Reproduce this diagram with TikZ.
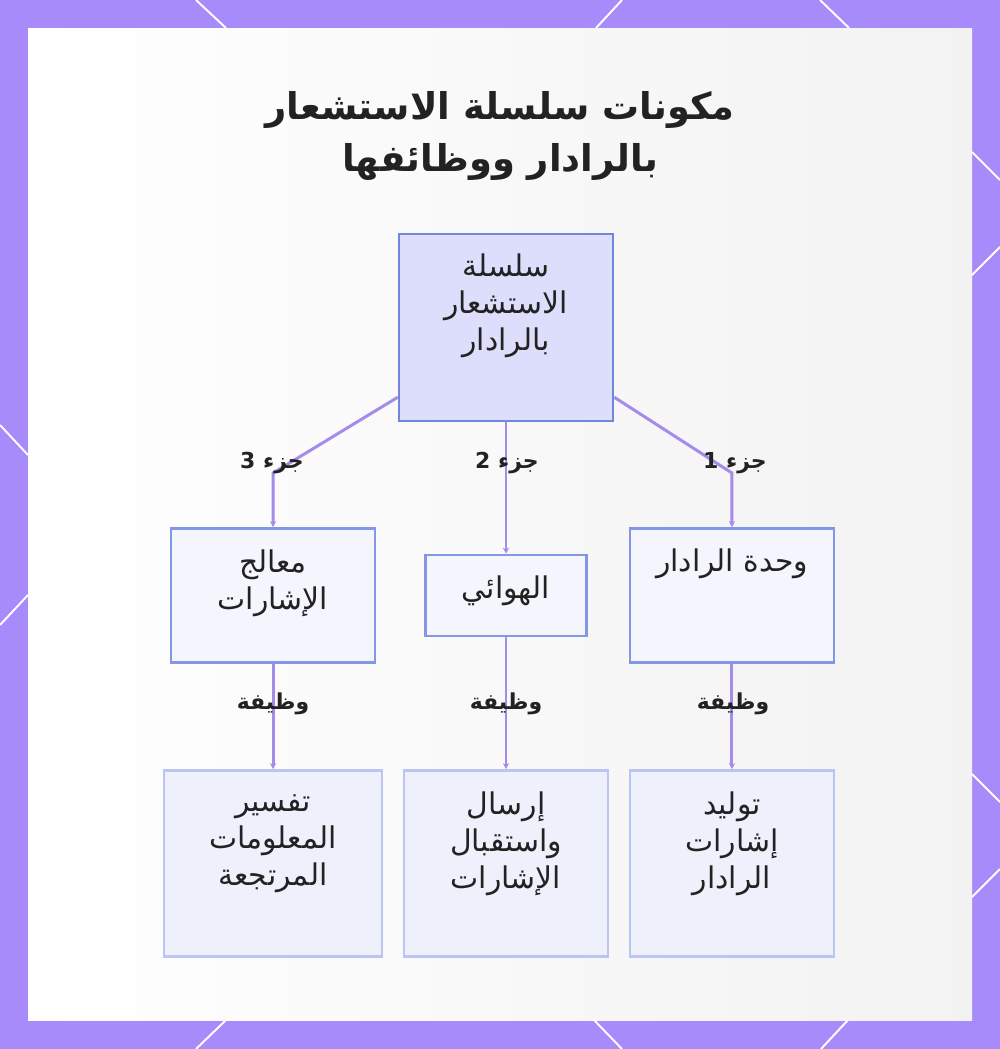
\documentclass[tikz,border=0pt]{standalone}
\usepackage{fontspec}
\newfontfamily\arabicfont[Script=Arabic]{DejaVu Sans}
\TeXXeTstate=1
\usetikzlibrary{positioning,arrows.meta}
\definecolor{framebg}{HTML}{A78BFA}
\definecolor{topfill}{HTML}{DCDEFC}
\definecolor{topline}{HTML}{7585DB}
\definecolor{midfill}{HTML}{F4F5FD}
\definecolor{midline}{HTML}{8397E6}
\definecolor{lowfill}{HTML}{EEF1FC}
\definecolor{lowline}{HTML}{BAC5F2}
\definecolor{linkcol}{HTML}{A58BEA}
\definecolor{inkcol}{HTML}{222222}
\newcommand{\rtl}[1]{\beginR #1\endR}

\begin{document}
\begin{tikzpicture}[x=0.02cm, y=-0.02cm,
    topbox/.style={draw=topline, fill=topfill, line width=1.4pt, minimum width=4.28cm, minimum height=3.74cm},
    midbox/.style={draw=midline, fill=midfill, line width=1.4pt, minimum width=4.08cm, minimum height=2.68cm},
    lowbox/.style={draw=lowline, fill=lowfill, line width=1.4pt, minimum width=4.08cm, minimum height=3.72cm},
    boxtext/.style={text=inkcol, align=center, inner sep=0pt, font=\arabicfont\fontsize{17}{21}\selectfont},
    tag/.style={text=inkcol, inner sep=1pt, font=\arabicfont\bfseries\fontsize{12.5}{15}\selectfont},
    link/.style={draw=linkcol, line width=1.7pt, -{Stealth[length=3.5pt,width=3.5pt]}},
    hexline/.style={white, line width=1.1pt}]
  \useasboundingbox (0,0) rectangle (1000,1049);
  \fill[framebg] (0,0) rectangle (1000,1049);
  \shade[left color=white, right color=black!5] (28,28) rectangle (972,1020);
  % frame lines
  \draw[hexline] (196,0) -- (226,28);
  \draw[hexline] (622,0) -- (596,28);
  \draw[hexline] (820,0) -- (849,28);
  \draw[hexline] (196,1049) -- (226,1020);
  \draw[hexline] (622,1049) -- (594,1020);
  \draw[hexline] (821,1049) -- (848,1020);
  \draw[hexline] (0,425) -- (28,455);
  \draw[hexline] (28,595) -- (0,625);
  \draw[hexline] (972,152) -- (1000,180);
  \draw[hexline] (972,275) -- (1000,247);
  \draw[hexline] (972,774) -- (1000,802);
  \draw[hexline] (972,897) -- (1000,869);

  \node[text=inkcol, align=center, font=\arabicfont\bfseries\fontsize{21}{29.5}\selectfont] (title) at (500,136)
    {\rtl{مكونات سلسلة الاستشعار}\\\rtl{بالرادار ووظائفها}};

  % boxes
  \node[topbox] (chain) at (506,327.5) {};
  \node[midbox, on grid, below left=5.36cm and 4.66cm of chain] (proc) {};
  \node[midbox, on grid, below=5.36cm of chain, minimum width=3.22cm, minimum height=1.62cm] (ant) {};
  \node[midbox, on grid, below right=5.36cm and 4.52cm of chain] (unit) {};
  \node[lowbox, on grid, below=5.36cm of proc, minimum width=4.36cm] (interp) {};
  \node[lowbox, on grid, below=5.36cm of ant] (txrx) {};
  \node[lowbox, on grid, below=5.36cm of unit] (gen) {};

  \node[boxtext] (chaintxt) at (506,306) {\rtl{سلسلة}\\\rtl{الاستشعار}\\\rtl{بالرادار}};
  \node[boxtext] (proctxt) at (273,583) {\rtl{معالج}\\\rtl{الإشارات}};
  \node[boxtext] (anttxt) at (506,591) {\rtl{الهوائي}};
  \node[boxtext] (unittxt) at (732,564) {\rtl{وحدة الرادار}};
  \node[boxtext] (interptxt) at (273,844) {\rtl{تفسير}\\\rtl{المعلومات}\\\rtl{المرتجعة}};
  \node[boxtext] (txrxtxt) at (506,844) {\rtl{إرسال}\\\rtl{واستقبال}\\\rtl{الإشارات}};
  \node[boxtext] (gentxt) at (732,844) {\rtl{توليد}\\\rtl{إشارات}\\\rtl{الرادار}};

  % connectors
  \coordinate (bendL) at (proc.north |- 0,473);
  \coordinate (bendR) at (unit.north |- 0,473);
  \draw[link] ([yshift=0.5cm]chain.south west) -- (bendL) -- (proc.north);
  \draw[link] (chain.south) -- (ant.north);
  \draw[link] ([yshift=0.5cm]chain.south east) -- (bendR) -- (unit.north);
  \draw[link] (proc.south) -- (interp.north);
  \draw[link] (ant.south) -- (txrx.north);
  \draw[link] (unit.south) -- (gen.north);

  % labels
  \node[tag] (part3) at (272,463) {\rtl{جزء 3}};
  \node[tag] (part2) at (507,463) {\rtl{جزء 2}};
  \node[tag] (part1) at (735,463) {\rtl{جزء 1}};
  \node[tag] (role3) at (273,704) {\rtl{وظيفة}};
  \node[tag] (role2) at (506,704) {\rtl{وظيفة}};
  \node[tag] (role1) at (733,704) {\rtl{وظيفة}};
\end{tikzpicture}
\end{document}
